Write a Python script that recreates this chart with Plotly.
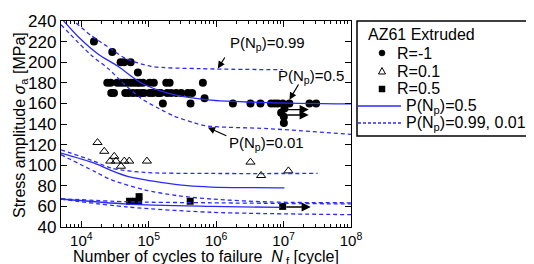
import plotly.graph_objects as go
import numpy as np

# ---------------- data ----------------
# R = -1 (fully reversed), cycles to failure and stress amplitude [MPa]
rm1_N = [15.4e3, 28.8e3,
         38.3e3, 43e3, 54e3,
         69e3,
         24.3e3, 27.2e3, 34.1e3, 38.3e3, 42.9e3, 48e3, 54e3, 60.3e3, 67.5e3, 73.3e3, 82e3, 103e3, 119e3, 182e3, 204e3, 635e3,
         27.8e3, 30.5e3, 44.9e3, 50.4e3, 58.3e3, 67.5e3, 77.4e3, 84.9e3, 103e3, 115e3, 137e3, 150e3, 188e3, 215e3, 255e3, 303e3, 380e3, 440e3,
         673e3,
         162e3, 417e3, 1.77e6, 3.23e6, 4.54e6, 6.53e6, 7.33e6, 8.2e6, 9.7e6, 12.2e6, 24.2e6, 30.4e6,
         10.3e6, 9.2e6, 10.1e6, 10.1e6]
rm1_S = [220, 210,
         200, 200, 200,
         190,
         180, 180, 180, 180, 180, 180, 180, 180, 180, 180, 180, 180, 180, 180, 180, 180,
         170, 170, 170, 170, 170, 170, 170, 170, 170, 170, 170, 170, 170, 170, 170, 170, 170, 170,
         165,
         160, 160, 160, 160, 160, 160, 160, 160, 160, 160, 160, 160,
         155, 151, 147, 141]

# R = 0.1
r01_N = [17.4e3, 21.9e3, 30.8e3, 26.9e3, 32.7e3, 38.7e3, 43.4e3, 51.4e3, 94e3, 3.23e6, 4.64e6, 11.8e6]
r01_S = [122, 113.5, 108.6, 104, 104, 99, 104, 104, 104, 103, 90, 94.5]

# R = 0.5
r05_N = [52e3, 64e3, 71e3, 72e3, 412e3, 9.7e6]
r05_S = [65, 65, 65, 69.5, 65, 60]

# Fitted curves: R=-1
rm1_p50_N = [5000, 8.93e3, 17.7e3, 34.9e3, 76.6e3, 192e3, 754e3, 5.83e6, 1e8]
rm1_p50_S = [243, 225, 208, 196, 180, 170, 163.5, 160.8, 159.5]
rm1_p99_N = [5000, 7.8e3, 13.9e3, 27.5e3, 44.4e3, 108e3, 593e3, 9.73e6]
rm1_p99_S = [252, 240, 226, 213, 204, 196, 193.7, 192.7]
rm1_p01_N = [5000, 13.9e3, 24.8e3, 44.4e3, 76.6e3, 137e3, 242e3, 479e3, 754e3, 5.83e6, 1e8]
rm1_p01_S = [236.4, 207, 194, 178, 165, 155.5, 147.5, 141, 138, 135.5, 130]

# R=0.1
r01_p50_N = [5000, 15.6e3, 27.5e3, 48.6e3, 151e3, 377e3, 834e3, 10.3e6]
r01_p50_S = [111.8, 102, 95, 89.2, 83.4, 80.1, 78.8, 78]
r01_p99_N = [5000, 15.6e3, 27.5e3, 85.7e3, 834e3, 32e6]
r01_p99_S = [115, 103.8, 97.3, 93, 92, 92]
r01_p01_N = [5000, 15.6e3, 27.5e3, 85.7e3, 268e3, 834e3, 6.24e6, 1e8]
r01_p01_S = [110.2, 94, 86, 76.2, 70.4, 67.2, 64.3, 63.5]

# R=0.5
r05_p50_N = [5000, 48.6e3, 834e3, 9.08e6]
r05_p50_S = [67.2, 62.3, 60.1, 59]
r05_p99_N = [5000, 48.6e3, 834e3, 1e8]
r05_p99_S = [67.5, 64.5, 63.5, 62.4]
r05_p01_N = [5000, 48.6e3, 834e3, 1e8]
r05_p01_S = [67, 59.4, 54.3, 52]

x_tickvals = [1e4, 1e5, 1e6, 1e7, 1e8]
x_ticktext = ["10<sup>4</sup>", "10<sup>5</sup>", "10<sup>6</sup>", "10<sup>7</sup>", "10<sup>8</sup>"]
y_tickvals = [40, 60, 80, 100, 120, 140, 160, 180, 200, 220, 240]

legend_title = "AZ61 Extruded"
legend_labels = ["R=-1", "R=0.1", "R=0.5", "P(N<sub>p</sub>)=0.5", "P(N<sub>p</sub>)=0.99, 0.01"]

# ---------------- figure ----------------
FONT = "Arial, Liberation Sans, sans-serif"
BLUE = "#2a2aff"
W, H = 534, 264
L, R, T, B = 53, 191, 13, 45
PW, PH = W - L - R, H - T - B


def px(x):  # pixel -> paper x
    return (x - L) / PW


def py(y):  # pixel -> paper y
    return (H - B - y) / PH


fig = go.Figure()

fig.add_trace(go.Scatter(x=rm1_N, y=rm1_S, mode="markers", name="R=-1",
                         marker=dict(symbol="circle", size=8, color="black")))
fig.add_trace(go.Scatter(x=r01_N, y=r01_S, mode="markers", name="R=0.1",
                         marker=dict(symbol="triangle-up-open", size=8, color="black",
                                     line=dict(width=1, color="black"))))
fig.add_trace(go.Scatter(x=r05_N, y=r05_S, mode="markers", name="R=0.5",
                         marker=dict(symbol="square", size=7, color="black")))

curves = [
    (rm1_p50_N, rm1_p50_S, "solid"),
    (rm1_p99_N, rm1_p99_S, "dash"),
    (rm1_p01_N, rm1_p01_S, "dash"),
    (r01_p50_N, r01_p50_S, "solid"),
    (r01_p99_N, r01_p99_S, "dash"),
    (r01_p01_N, r01_p01_S, "dash"),
    (r05_p50_N, r05_p50_S, "solid"),
    (r05_p99_N, r05_p99_S, "dash"),
    (r05_p01_N, r05_p01_S, "dash"),
]
for N, S, dash in curves:
    fig.add_trace(go.Scatter(x=N, y=S, mode="lines",
                             line=dict(color=BLUE, width=1.3,
                                       dash="solid" if dash == "solid" else "4px,3px",
                                       shape="spline", smoothing=0.8)))

# text labels with arrows
labels = [
    ("P(N<sub>p</sub>)=0.99", 6.766, 217.7, 6.025, 193.9, 6.143, 206),
    ("P(N<sub>p</sub>)=0.5", 7.40, 186.6, 7.087, 163.6, 7.235, 179.8),
    ("P(N<sub>p</sub>)=0.01", 6.751, 120.6, 5.877, 136.6, 6.173, 127.9),
]
for txt, tx, ty, hx, hy, axl, ayv in labels:
    fig.add_annotation(x=tx, y=ty, text=txt, showarrow=False,
                       font=dict(family=FONT, size=15, color="black"))
    fig.add_annotation(x=hx, y=hy, ax=axl, ay=ayv, axref="x", ayref="y",
                       text="", showarrow=True, arrowhead=2, arrowsize=1.2,
                       arrowwidth=1.2, arrowcolor="black")

# run-out arrows
runouts = [(7.032, 7.373, 154), (7.032, 7.373, 148.7), (7.018, 7.403, 59.4)]
for t, h, v in runouts:
    fig.add_annotation(x=h, y=v, ax=t, ay=v, axref="x", ayref="y", text="",
                       showarrow=True, arrowhead=2, arrowsize=1.3, arrowwidth=1.4,
                       arrowcolor="black")

# ---- manual legend ----
shapes = []
shapes.append(dict(type="rect", xref="paper", yref="paper",
                   x0=px(349), x1=px(530), y0=py(128), y1=py(13),
                   line=dict(color="black", width=1.5), fillcolor="white", layer="above"))
mx = 374
shapes.append(dict(type="circle", xref="paper", yref="paper",
                   x0=px(mx - 3), x1=px(mx + 3), y0=py(48), y1=py(42),
                   line=dict(color="black", width=0.5), fillcolor="black", layer="above"))
tri = f"M {px(mx-3.5)} {py(66)} L {px(mx+3.5)} {py(66)} L {px(mx)} {py(59.5)} Z"
shapes.append(dict(type="path", xref="paper", yref="paper", path=tri,
                   line=dict(color="black", width=1), fillcolor="white", layer="above"))
shapes.append(dict(type="rect", xref="paper", yref="paper",
                   x0=px(mx - 3), x1=px(mx + 3), y0=py(84), y1=py(78),
                   line=dict(color="black", width=0.5), fillcolor="black", layer="above"))
shapes.append(dict(type="line", xref="paper", yref="paper",
                   x0=px(350), x1=px(393), y0=py(98), y1=py(98),
                   line=dict(color=BLUE, width=1.3), layer="above"))
shapes.append(dict(type="line", xref="paper", yref="paper",
                   x0=px(350), x1=px(393), y0=py(115), y1=py(115),
                   line=dict(color=BLUE, width=1.3, dash="3px,2px"), layer="above"))

fig.add_annotation(xref="paper", yref="paper", x=px(358), y=py(27), text=legend_title,
                   xanchor="left", yanchor="middle", showarrow=False,
                   font=dict(family=FONT, size=16, color="black"))
row_y = [45, 63, 81, 98, 115]
row_x = [387, 387, 387, 396, 396]
for lab, yy, xx in zip(legend_labels, row_y, row_x):
    fig.add_annotation(xref="paper", yref="paper", x=px(xx), y=py(yy), text=lab,
                       xanchor="left", yanchor="middle", showarrow=False,
                       font=dict(family=FONT, size=16, color="black"))

# axis titles
fig.add_annotation(xref="paper", yref="paper", x=px(198), y=py(249),
                   text="Number of cycles to failure  <i>N</i><sub> f</sub> [cycle]",
                   showarrow=False, xanchor="center", yanchor="middle",
                   font=dict(family=FONT, size=16, color="black"))
fig.add_annotation(xref="paper", yref="paper", x=px(12), y=py(117),
                   text="Stress amplitude <i>σ</i><sub>a</sub> [MPa]", textangle=-90,
                   showarrow=False, xanchor="center", yanchor="middle",
                   font=dict(family=FONT, size=16, color="black"))

fig.update_layout(
    width=W, height=H,
    margin=dict(l=L, r=R, t=T, b=B),
    paper_bgcolor="white", plot_bgcolor="white",
    font=dict(family=FONT, size=16, color="black"),
    showlegend=False,
    shapes=shapes,
)
fig.update_xaxes(type="log", range=[np.log10(5000), 8],
                 tickvals=x_tickvals, ticktext=x_ticktext,
                 ticks="inside", ticklen=6, tickwidth=1, tickcolor="black",
                 showline=True, linecolor="black", linewidth=1.3, mirror="ticks",
                 showgrid=False, zeroline=False, automargin=False,
                 tickfont=dict(size=15),
                 minor=dict(ticks="inside", ticklen=3, tickcolor="black", showgrid=False,
                            tickvals=[m * 10**e for e in range(3, 8) for m in range(2, 10)]))
fig.update_yaxes(range=[40, 240], tickvals=y_tickvals,
                 ticks="inside", ticklen=6, tickwidth=1, tickcolor="black",
                 showline=True, linecolor="black", linewidth=1.3, mirror="ticks",
                 showgrid=False, zeroline=False, automargin=False, tickfont=dict(size=17))

fig.write_html("out.html")
